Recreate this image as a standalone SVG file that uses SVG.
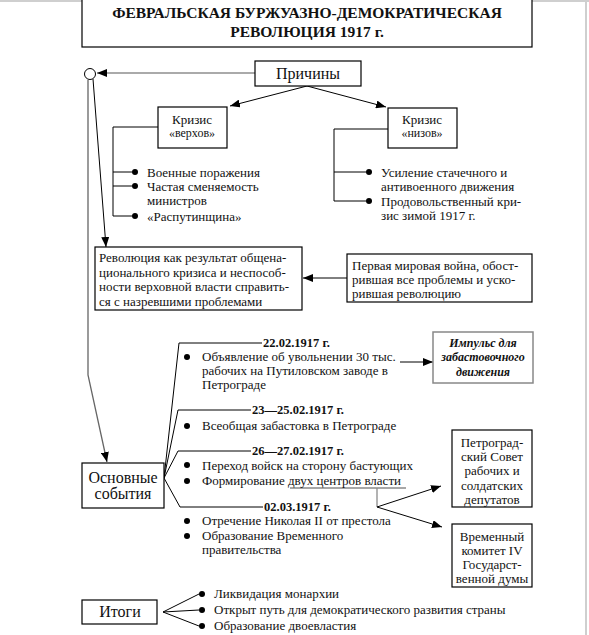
<svg xmlns="http://www.w3.org/2000/svg" width="589" height="635" viewBox="0 0 589 635">
<defs>
<marker id="ah" markerUnits="userSpaceOnUse" markerWidth="10" markerHeight="8" refX="10" refY="4" orient="auto">
<path d="M0,0 L10,4 L0,8 z" fill="#000"/>
</marker>
<style>
text{font-family:"Liberation Serif","Times New Roman",serif;fill:#111;}
.t{font-size:13px;}
.s{font-size:12px;}
.d{font-size:12.5px;font-weight:bold;}
.big{font-size:16px;}
.ttl{font-size:15.5px;font-weight:bold;}
.imp{font-size:12px;font-weight:bold;font-style:italic;}
.c{text-anchor:middle;}
.box{fill:#fff;stroke:#000;stroke-width:1.2;}
.ln{fill:none;stroke:#000;stroke-width:1;}
.gr{fill:none;stroke:#8a8a8a;stroke-width:1.3;}
.bul{fill:#000;}
</style>
</defs>
<rect x="0" y="0" width="589" height="635" fill="#fff"/>
<line x1="0" y1="1" x2="589" y2="1" stroke="#cfcfcf" stroke-width="2"/>
<line x1="586" y1="0" x2="586" y2="635" stroke="#cfcfcf" stroke-width="2"/>

<g id="title">
<rect class="box" x="82" y="-2" width="450" height="49"/>
<text class="ttl c" x="307" y="18">ФЕВРАЛЬСКАЯ БУРЖУАЗНО-ДЕМОКРАТИЧЕСКАЯ</text>
<text class="ttl c" x="307" y="37">РЕВОЛЮЦИЯ 1917 г.</text>
</g>

<g id="connectors">
<line x1="255" y1="73" x2="97" y2="73" stroke="#aaa" stroke-width="2" marker-end="url(#ah)"/>
<line class="ln" x1="307" y1="86" x2="230" y2="106" marker-end="url(#ah)"/>
<line class="ln" x1="307" y1="86" x2="386" y2="107" marker-end="url(#ah)"/>
<line class="ln" x1="93" y1="79" x2="106" y2="247" marker-end="url(#ah)"/>
<polyline points="88,80 88,375 107,462" fill="none" stroke="#666" stroke-width="1.3" marker-end="url(#ah)"/>
<line class="ln" x1="347" y1="278" x2="303" y2="278" marker-end="url(#ah)"/>
<line class="ln" x1="400" y1="362" x2="433" y2="362" marker-end="url(#ah)"/>
<polyline class="ln" points="158,127 113,127 113,216 132,216"/>
<line class="ln" x1="113" y1="172" x2="132" y2="172"/>
<line class="ln" x1="113" y1="186" x2="132" y2="186"/>
<polyline class="ln" points="388,129 334,129 334,201 366,201"/>
<line class="ln" x1="334" y1="172" x2="366" y2="172"/>
<polyline class="ln" points="164,478 179,343 262,343"/>
<polyline class="ln" points="164,478 178,410 251,410"/>
<polyline class="ln" points="164,478 178,451 251,451"/>
<polyline class="ln" points="164,478 180,507 263,507"/>
<line class="gr" x1="290" y1="488" x2="406" y2="488"/>
<line class="gr" x1="377" y1="488" x2="377" y2="507"/>
<line class="ln" x1="377" y1="507" x2="441" y2="486" marker-end="url(#ah)"/>
<line class="ln" x1="377" y1="507" x2="442" y2="527" marker-end="url(#ah)"/>
<line class="ln" x1="163" y1="612" x2="199" y2="594"/>
<line class="ln" x1="163" y1="612" x2="199" y2="610"/>
<line class="ln" x1="163" y1="612" x2="199" y2="626"/>
</g>

<g id="circle">
<circle cx="90" cy="74" r="5.5" fill="#fff" stroke="#000" stroke-width="1"/>
</g>

<g id="prichiny">
<rect class="box" x="255" y="61" width="106" height="25"/>
<text class="big c" x="308" y="79">Причины</text>
</g>

<g id="verhi">
<rect class="box" x="158" y="107" width="69" height="41"/>
<text class="t c" x="192" y="124">Кризис</text>
<text class="s c" x="192" y="137">«верхов»</text>
</g>
<g id="verhi-list">
<circle class="bul" cx="135" cy="172" r="3"/>
<circle class="bul" cx="135" cy="186" r="3"/>
<circle class="bul" cx="135" cy="216" r="3"/>
<text class="t" x="147" y="177">Военные поражения</text>
<text class="t" x="147" y="191">Частая сменяемость</text>
<text class="t" x="147" y="205">министров</text>
<text class="t" x="147" y="221">«Распутинщина»</text>
</g>

<g id="nizy">
<rect class="box" x="388" y="108" width="69" height="40"/>
<text class="t c" x="422" y="124">Кризис</text>
<text class="s c" x="422" y="137">«низов»</text>
</g>
<g id="nizy-list">
<circle class="bul" cx="369" cy="172" r="3"/>
<circle class="bul" cx="369" cy="201" r="3"/>
<text class="t" x="381" y="177">Усиление стачечного и</text>
<text class="t" x="381" y="191">антивоенного движения</text>
<text class="t" x="381" y="206">Продовольственный кри-</text>
<text class="t" x="381" y="220">зис зимой 1917 г.</text>
</g>

<g id="revolution">
<rect class="box" x="95" y="247" width="207" height="63"/>
<text class="t" x="99" y="262">Революция как результат общена-</text>
<text class="t" x="99" y="277">ционального кризиса и неспособ-</text>
<text class="t" x="99" y="291">ности верховной власти справить-</text>
<text class="t" x="99" y="306">ся с назревшими проблемами</text>
</g>

<g id="war">
<rect class="box" x="347" y="254" width="185" height="48"/>
<text class="t" x="352" y="270">Первая мировая война, обост-</text>
<text class="t" x="352" y="284">рившая все проблемы и уско-</text>
<text class="t" x="352" y="298">рившая революцию</text>
</g>

<g id="events">
<rect class="box" x="82" y="463" width="82" height="45"/>
<text class="big c" x="123" y="483">Основные</text>
<text class="big c" x="123" y="499">события</text>
</g>

<g id="ev1">
<text class="d" x="263" y="347">22.02.1917 г.</text>
<circle class="bul" cx="187" cy="357" r="3"/>
<text class="t" x="202" y="361">Объявление об увольнении 30 тыс.</text>
<text class="t" x="202" y="375">рабочих на Путиловском заводе в</text>
<text class="t" x="202" y="389">Петрограде</text>
</g>

<g id="impulse">
<rect x="433" y="332" width="100" height="51" fill="#fff" stroke="#888" stroke-width="1.5"/>
<text class="imp c" x="483" y="347">Импульс для</text>
<text class="imp c" x="483" y="361">забастовочного</text>
<text class="imp c" x="483" y="376">движения</text>
</g>

<g id="ev2">
<text class="d" x="252" y="414">23—25.02.1917 г.</text>
<circle class="bul" cx="187" cy="426" r="3"/>
<text class="t" x="202" y="430">Всеобщая забастовка в Петрограде</text>
</g>

<g id="ev3">
<text class="d" x="252" y="455">26—27.02.1917 г.</text>
<circle class="bul" cx="187" cy="465" r="3"/>
<circle class="bul" cx="187" cy="481" r="3"/>
<text class="t" x="202" y="469.5">Переход войск на сторону бастующих</text>
<text class="t" x="202" y="485">Формирование двух центров власти</text>
</g>

<g id="ev4">
<text class="d" x="264" y="511">02.03.1917 г.</text>
<circle class="bul" cx="187" cy="521" r="3"/>
<circle class="bul" cx="187" cy="536" r="3"/>
<text class="t" x="202" y="525">Отречение Николая II от престола</text>
<text class="t" x="202" y="540">Образование Временного</text>
<text class="t" x="202" y="554">правительства</text>
</g>

<g id="sovet">
<rect class="box" x="452" y="430" width="80" height="77"/>
<text class="t c" x="492" y="447">Петроград-</text>
<text class="t c" x="492" y="461">ский Совет</text>
<text class="t c" x="492" y="475">рабочих и</text>
<text class="t c" x="492" y="490">солдатских</text>
<text class="t c" x="492" y="504">депутатов</text>
</g>

<g id="komitet">
<rect class="box" x="452" y="524" width="80" height="63"/>
<text class="t c" x="492" y="541">Временный</text>
<text class="t c" x="492" y="555">комитет IV</text>
<text class="t c" x="492" y="569">Государст-</text>
<text class="t c" x="492" y="583">венной думы</text>
</g>

<g id="itogi">
<rect class="box" x="82" y="600" width="75" height="24"/>
<text class="big c" x="120" y="617">Итоги</text>
</g>
<g id="itogi-list">
<circle class="bul" cx="202" cy="594" r="3"/>
<circle class="bul" cx="202" cy="610" r="3"/>
<circle class="bul" cx="202" cy="626" r="3"/>
<text class="t" x="214" y="598">Ликвидация монархии</text>
<text class="t" x="214" y="614">Открыт путь для демократического развития страны</text>
<text class="t" x="214" y="630">Образование двоевластия</text>
</g>
</svg>
